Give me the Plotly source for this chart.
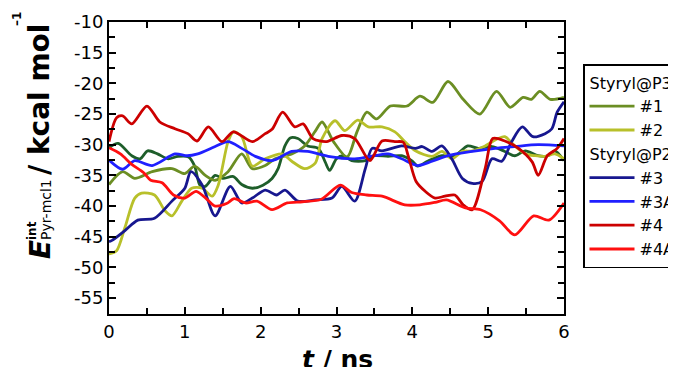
import plotly.graph_objects as go

# ---- data ----
t_dg = [0, 0.12, 0.3, 0.41, 0.51, 0.64, 0.78, 0.91, 1.05, 1.13, 1.2, 1.27, 1.4, 1.5, 1.64, 1.75, 1.89, 2.03, 2.15, 2.23, 2.32, 2.39, 2.49, 2.62, 2.76, 2.85, 2.91, 3.0, 3.09, 3.2, 3.38, 3.5, 3.68, 3.86, 4.0, 4.07, 4.2, 4.39, 4.56, 4.73, 4.87, 5.05, 5.22, 5.35, 5.49, 5.66, 5.79, 5.88, 6.0]
v_dg = [-30.5, -29.8, -31.8, -32.3, -31.0, -31.5, -32.3, -31.9, -32.0, -33.5, -36.6, -36.8, -35.0, -35.5, -35.2, -36.5, -37.1, -36.6, -35.5, -33.9, -30.2, -28.9, -29.0, -30.2, -30.6, -32.8, -34.2, -32.3, -31.8, -32.6, -32.6, -31.8, -31.9, -31.8, -32.7, -33.5, -32.7, -31.8, -31.8, -30.2, -30.6, -30.3, -31.1, -31.8, -31.0, -31.8, -31.8, -31.0, -32.6]

t_1 = [0, 0.18, 0.34, 0.57, 0.83, 1.0, 1.13, 1.27, 1.4, 1.57, 1.75, 1.89, 2.06, 2.19, 2.41, 2.58, 2.72, 2.81, 2.96, 3.14, 3.27, 3.4, 3.53, 3.71, 3.93, 4.1, 4.27, 4.47, 4.67, 4.89, 5.11, 5.29, 5.46, 5.57, 5.68, 5.82, 6.0]
v_1 = [-36.5, -34.4, -35.5, -34.4, -33.9, -34.7, -33.5, -35.0, -35.8, -34.4, -31.5, -33.9, -33.4, -32.3, -31.5, -30.2, -27.8, -26.3, -29.5, -32.0, -27.9, -24.7, -25.8, -23.7, -23.7, -22.1, -23.1, -19.7, -22.6, -25.0, -21.3, -23.9, -22.3, -22.6, -21.3, -22.6, -22.3]

t_2 = [0, 0.1, 0.21, 0.34, 0.43, 0.6, 0.74, 0.83, 0.96, 1.09, 1.23, 1.36, 1.44, 1.57, 1.64, 1.75, 1.89, 2.06, 2.28, 2.41, 2.58, 2.72, 2.81, 2.98, 3.11, 3.28, 3.42, 3.6, 3.77, 3.9, 4.04, 4.26, 4.39, 4.52, 4.66, 4.79, 4.96, 5.13, 5.22, 5.35, 5.49, 5.62, 5.75, 5.88, 6.0]
v_2 = [-47.8, -47.3, -43.5, -38.7, -37.9, -38.2, -40.8, -41.6, -39.2, -37.1, -37.1, -38.4, -36.6, -29.5, -27.9, -28.7, -33.5, -32.3, -31.5, -32.7, -33.9, -33.0, -29.0, -26.1, -27.7, -26.0, -27.1, -27.1, -27.9, -29.5, -31.0, -31.9, -31.1, -32.3, -31.1, -31.0, -30.2, -29.0, -28.7, -30.2, -31.5, -31.8, -31.9, -31.5, -32.3]

t_3 = [0, 0.04, 0.21, 0.38, 0.6, 0.83, 1.0, 1.08, 1.23, 1.4, 1.6, 1.75, 1.89, 2.06, 2.21, 2.32, 2.49, 2.72, 2.94, 3.07, 3.24, 3.38, 3.47, 3.6, 3.86, 4.04, 4.13, 4.26, 4.39, 4.52, 4.66, 4.79, 4.92, 5.05, 5.18, 5.31, 5.45, 5.59, 5.75, 5.84, 5.91, 6.0]
v_3 = [-45.8, -45.6, -44.0, -42.3, -42.0, -39.2, -37.1, -34.4, -36.6, -41.6, -36.8, -39.5, -38.7, -37.4, -38.2, -37.4, -39.2, -39.0, -38.7, -36.8, -39.2, -33.9, -30.6, -31.0, -30.2, -30.6, -30.3, -31.1, -30.2, -32.3, -35.5, -36.3, -36.0, -32.3, -32.7, -29.5, -27.1, -28.7, -28.2, -27.4, -24.7, -23.0]

t_3A = [0, 0.18, 0.34, 0.57, 0.87, 1.03, 1.17, 1.4, 1.57, 1.75, 1.93, 2.15, 2.41, 2.62, 2.89, 3.24, 3.5, 3.68, 3.86, 4.07, 4.26, 4.47, 4.79, 5.09, 5.35, 5.66, 6.0]
v_3A = [-32.5, -34.0, -32.6, -33.4, -31.5, -31.8, -31.5, -30.3, -29.5, -30.6, -31.9, -32.6, -31.1, -31.1, -31.9, -32.3, -31.8, -31.5, -32.3, -33.4, -32.7, -31.8, -31.1, -30.6, -30.3, -30.0, -30.2]

t_4 = [0, 0.1, 0.18, 0.3, 0.5, 0.67, 0.87, 1.04, 1.16, 1.31, 1.49, 1.64, 1.89, 2.06, 2.15, 2.29, 2.45, 2.56, 2.69, 2.87, 3.07, 3.24, 3.44, 3.6, 3.77, 3.88, 3.95, 4.05, 4.17, 4.3, 4.43, 4.56, 4.67, 4.79, 4.96, 5.06, 5.22, 5.4, 5.58, 5.66, 5.78, 5.91, 6.0]
v_4 = [-29.5, -25.6, -25.3, -26.6, -23.7, -26.3, -27.4, -28.2, -29.4, -27.1, -29.5, -27.9, -29.5, -28.2, -27.5, -24.7, -27.1, -26.6, -29.0, -29.5, -28.5, -29.0, -32.6, -29.4, -29.5, -29.6, -32.0, -36.0, -37.6, -38.7, -38.4, -38.2, -39.8, -40.6, -33.9, -29.0, -29.4, -30.6, -32.8, -35.0, -31.8, -30.6, -29.0]

t_4A = [0, 0.15, 0.3, 0.45, 0.55, 0.7, 0.85, 1.0, 1.15, 1.3, 1.4, 1.55, 1.65, 1.8, 1.95, 2.15, 2.35, 2.55, 2.8, 3.05, 3.2, 3.4, 3.6, 3.9, 4.1, 4.3, 4.45, 4.7, 4.9, 5.15, 5.35, 5.6, 5.8, 6.0]
v_4A = [-30.5, -31.5, -33.2, -34.5, -35.8, -36.2, -38.2, -38.7, -37.6, -39.0, -40.0, -39.6, -38.8, -39.5, -39.2, -40.6, -39.5, -39.3, -38.9, -36.6, -37.8, -38.2, -38.4, -39.8, -39.8, -39.4, -39.0, -40.3, -40.6, -42.4, -44.7, -41.6, -42.3, -39.5]

x_ticks = [0, 1, 2, 3, 4, 5, 6]
y_ticks = [-10, -15, -20, -25, -30, -35, -40, -45, -50, -55]

series = [
    dict(t=t_dg, v=v_dg, name="", color="#1e5e2a", group="P3", title="Styryl@P3", show=False),
    dict(t=t_1, v=v_1, name="#1", color="#6b8e23", group="P3", title="Styryl@P3", show=True),
    dict(t=t_2, v=v_2, name="#2", color="#b8c02a", group="P3", title="Styryl@P3", show=True),
    dict(t=t_3, v=v_3, name="#3", color="#17178f", group="P2", title="Styryl@P2", show=True),
    dict(t=t_3A, v=v_3A, name="#3A", color="#2020ff", group="P2", title="Styryl@P2", show=True),
    dict(t=t_4, v=v_4, name="#4", color="#cc0000", group="P2", title="Styryl@P2", show=True),
    dict(t=t_4A, v=v_4A, name="#4A", color="#ff1010", group="P2", title="Styryl@P2", show=True),
]

FONT = "DejaVu Sans, Liberation Sans, Arial, sans-serif"

fig = go.Figure()
for s in series:
    fig.add_trace(go.Scatter(
        x=s["t"], y=s["v"], mode="lines", name=s["name"],
        line=dict(color=s["color"], width=2.8, shape="spline", smoothing=0.8),
        legendgroup=s["group"],
        legendgrouptitle=dict(text=s["title"], font=dict(size=16, color="black", family=FONT)),
        showlegend=s["show"],
    ))

# the page body adds an 8 px offset; the figure is laid out in page pixels minus it
OFF = 8
W, H = 676 - OFF, 367 - OFF
X0, X1, Y0, Y1 = 109, 564, 22, 314      # plot area in page pixels
L, T = X0 - OFF, Y0 - OFF
R = W - L - (X1 - X0)
B = H - T - (Y1 - Y0)
pw, ph = X1 - X0, Y1 - Y0

def px(xp):
    return (xp - X0) / pw

def py(yp):
    return (Y1 - yp) / ph

axis_common = dict(
    showline=True, linewidth=2, linecolor="black", mirror="allticks",
    ticks="inside", ticklen=7, tickwidth=2, tickcolor="black",
    showgrid=False, zeroline=False,
    tickfont=dict(size=18, color="black", family=FONT),
)

fig.update_xaxes(range=[0, 6], tickvals=x_ticks, ticktext=[str(v) for v in x_ticks],
                 minor=dict(dtick=0.5, ticklen=6, tickwidth=2, tickcolor="black", ticks="inside"),
                 **axis_common)
fig.update_yaxes(range=[-57.6, -10], tickvals=y_ticks, ticktext=[str(v) for v in y_ticks],
                 minor=dict(dtick=2.5, ticklen=6, tickwidth=2, tickcolor="black", ticks="inside"),
                 **axis_common)

fig.update_layout(
    width=W, height=H,
    margin=dict(l=L, r=R, t=T, b=B, autoexpand=False),
    plot_bgcolor="white", paper_bgcolor="white",
    font=dict(family=FONT, color="black"),
    showlegend=True,
    legend=dict(
        x=px(583), y=py(64), xanchor="left", yanchor="top",
        bordercolor="black", borderwidth=1.5, bgcolor="white",
        font=dict(size=16, color="black", family=FONT),
        itemwidth=45, tracegroupgap=0, groupclick="toggleitem",
    ),
)

ann = dict(xref="paper", yref="paper", showarrow=False, textangle=-90,
           xanchor="center", yanchor="middle")
# y-axis title pieces (stacked super/subscript as in the reference)
fig.add_annotation(text="<b><i>E</i></b>", x=px(40), y=py(250), font=dict(size=28, family=FONT, color="black"), **ann)
fig.add_annotation(text="<b>int</b>", x=px(32), y=py(231), font=dict(size=12, family=FONT, color="black"), **ann)
fig.add_annotation(text="Pyr-mcl1", x=px(46), y=py(210), font=dict(size=14, family=FONT, color="black"), **ann)
fig.add_annotation(text="<b>/ kcal mol</b>", x=px(40), y=py(100), font=dict(size=28, family=FONT, color="black"), **ann)
fig.add_annotation(text="<b>–1</b>", x=px(17), y=py(19), font=dict(size=12, family=FONT, color="black"), **ann)

# x-axis title
fig.add_annotation(text="<b><i>t</i> / ns</b>", xref="paper", yref="paper", x=px(337), y=py(343),
                   xanchor="center", yanchor="top", showarrow=False,
                   font=dict(size=25, family=FONT, color="black"))

fig.write_html("out.html")
